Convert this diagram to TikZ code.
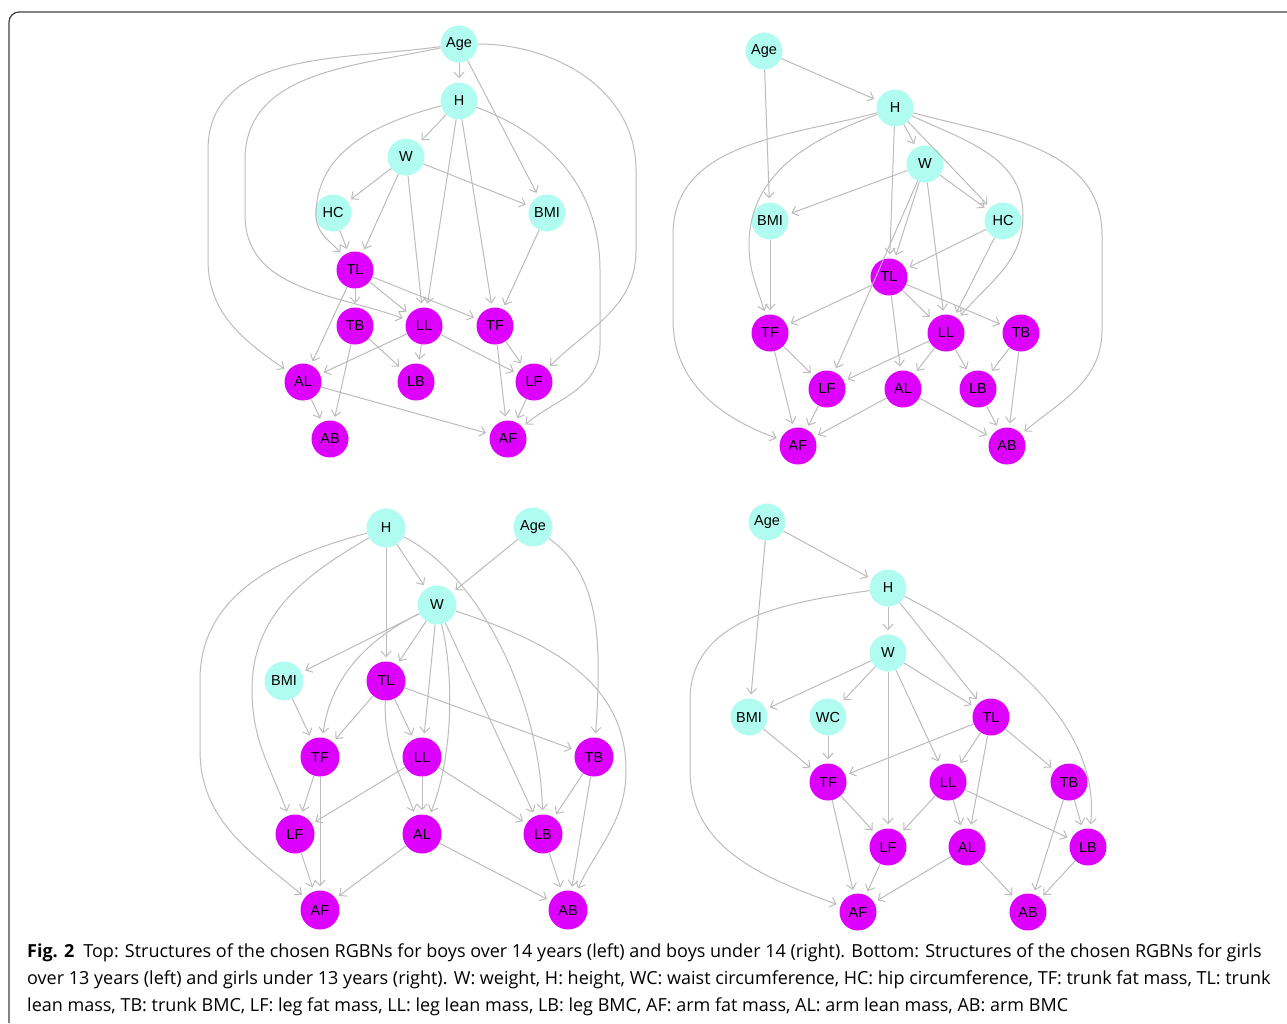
\documentclass[tikz,border=0pt]{standalone}
\usepackage{fontspec}
\usepackage{tikz}
\usetikzlibrary{arrows.meta}
\newfontfamily\vtxfont{Liberation Sans}
\newfontfamily\capfont{Open Sans}
\definecolor{cyn}{RGB}{176,252,240}
\definecolor{mgt}{RGB}{221,0,255}
\definecolor{edg}{RGB}{188,188,188}
\begin{document}
\begin{tikzpicture}[x=1pt, y=1pt, edge/.style={draw=edg, line width=1pt, -{Straight Barb[length=5.5pt,width=10pt]}, shorten >=4pt}, captxt/.style={anchor=base west, inner sep=0pt, font=\capfont\fontsize{18}{22}\selectfont}]
\tikzstyle{vtx}=[circle, inner sep=0pt, minimum size=37pt, font=\vtxfont\fontsize{14.5}{16}\selectfont]
\tikzstyle{cy}=[vtx, fill=cyn]
\tikzstyle{mg}=[vtx, fill=mgt]
\useasboundingbox (0,0) rectangle (1287,-1023);
\draw[black!75, line width=1.2pt] (9,-1023) -- (9,-22) arc[start angle=180, end angle=90, radius=10] -- (1287,-12);
% top left: boys over 14
\node[cy] (Age1) at (459,-44) {Age};
\node[cy] (H1) at (459,-101) {H};
\node[cy] (W1) at (406,-157) {W};
\node[cy] (HC1) at (333,-213) {HC};
\node[cy] (BMI1) at (547,-213) {BMI};
\node[mg] (TL1) at (355,-270) {TL};
\node[mg] (TB1) at (355,-326) {TB};
\node[mg] (LL1) at (424,-326) {LL};
\node[mg] (TF1) at (495,-326) {TF};
\node[mg] (AL1) at (303,-382) {AL};
\node[mg] (LB1) at (416,-382) {LB};
\node[mg] (LF1) at (534,-382) {LF};
\node[mg] (AB1) at (330,-439) {AB};
\node[mg] (AF1) at (508,-439) {AF};
\foreach \i/\j in {Age1/H1,Age1/BMI1,H1/W1,H1/LL1,H1/TF1,W1/HC1,W1/TL1,W1/LL1,W1/BMI1,HC1/TL1,BMI1/TF1,TL1/TB1,TL1/LL1,TL1/TF1,TL1/AL1,TB1/LB1,TB1/AB1,LL1/LB1,LL1/AL1,LL1/LF1,TF1/LF1,TF1/AF1,LF1/AF1,AL1/AB1,AL1/AF1}{\draw[edge] (\i) -- (\j);}
\draw[edge] (Age1) to[out=188,in=90] (208,-150) -- (208,-260) to[out=-90,in=145] (AL1);
\draw[edge] (Age1) to[out=192,in=90] (245,-160) -- (245,-215) to[out=-90,in=160] (LL1);
\draw[edge] (Age1) to[out=0,in=90] (636,-170) -- (636,-250) to[out=-90,in=45] (LF1);
\draw[edge] (H1) to[out=-20,in=90] (600,-270) -- (600,-345) to[out=-90,in=40] (AF1);
\draw[edge] (H1) to[out=195,in=90] (316,-215) to[out=-90,in=130] (TL1);
% top right: boys under 14
\node[cy] (Age2) at (764,-51) {Age};
\node[cy] (H2) at (895,-108) {H};
\node[cy] (W2) at (925,-164) {W};
\node[cy] (BMI2) at (770,-221) {BMI};
\node[cy] (HC2) at (1003,-221) {HC};
\node[mg] (TL2) at (889,-277) {TL};
\node[mg] (TF2) at (770,-333) {TF};
\node[mg] (LL2) at (946,-333) {LL};
\node[mg] (TB2) at (1021,-333) {TB};
\node[mg] (LF2) at (827,-389) {LF};
\node[mg] (AL2) at (903,-389) {AL};
\node[mg] (LB2) at (978,-389) {LB};
\node[mg] (AF2) at (798,-446) {AF};
\node[mg] (AB2) at (1007,-446) {AB};
\foreach \i/\j in {Age2/H2,Age2/BMI2,H2/W2,H2/TL2,H2/HC2,W2/BMI2,W2/HC2,W2/TL2,W2/LF2,W2/LL2,HC2/TL2,HC2/LL2,BMI2/TF2,TL2/TF2,TL2/LL2,TL2/TB2,TL2/AL2,TF2/LF2,TF2/AF2,LL2/LF2,LL2/AL2,LL2/LB2,TB2/LB2,TB2/AB2,LF2/AF2,AL2/AF2,AL2/AB2,LB2/AB2}{\draw[edge] (\i) -- (\j);}
\draw[edge] (H2) to[out=200,in=90] (749,-245) to[out=-90,in=105] (TF2);
\draw[edge] (H2) to[out=195,in=90] (673,-235) -- (673,-320) to[out=-90,in=160] (AF2);
\draw[edge] (H2) to[out=-25,in=90] (1023,-215) to[out=-90,in=50] (LL2);
\draw[edge] (H2) to[out=-15,in=90] (1102,-235) -- (1102,-330) to[out=-90,in=40] (AB2);
% bottom left: girls over 13
\node[cy, minimum size=39pt] (H3) at (386,-528) {H};
\node[cy, minimum size=39pt] (Age3) at (533,-527) {Age};
\node[cy, minimum size=39pt] (W3) at (437,-605) {W};
\node[cy, minimum size=39pt] (BMI3) at (284,-681) {BMI};
\node[mg, minimum size=39pt] (TL3) at (386,-681) {TL};
\node[mg, minimum size=39pt] (TF3) at (320,-757) {TF};
\node[mg, minimum size=39pt] (LL3) at (422,-757) {LL};
\node[mg, minimum size=39pt] (TB3) at (594,-757) {TB};
\node[mg, minimum size=39pt] (LF3) at (295,-834) {LF};
\node[mg, minimum size=39pt] (AL3) at (422,-834) {AL};
\node[mg, minimum size=39pt] (LB3) at (543,-834) {LB};
\node[mg, minimum size=39pt] (AF3) at (320,-910) {AF};
\node[mg, minimum size=39pt] (AB3) at (568,-910) {AB};
\foreach \i/\j in {H3/W3,H3/TL3,Age3/W3,W3/BMI3,W3/TL3,W3/LL3,W3/LB3,BMI3/TF3,TL3/TF3,TL3/LL3,TL3/TB3,TF3/LF3,TF3/AF3,LL3/LF3,LL3/AL3,LL3/LB3,TB3/LB3,TB3/AB3,LF3/AF3,AL3/AF3,AL3/AB3,LB3/AB3}{\draw[edge] (\i) -- (\j);}
\draw[edge] (H3) to[out=195,in=90] (200,-680) -- (200,-750) to[out=-90,in=140] (AF3);
\draw[edge] (H3) to[out=210,in=90] (252,-690) to[out=-90,in=110] (LF3);
\draw[edge] (H3) .. controls (480,-575) and (540,-700) .. (LB3);
\draw[edge] (Age3) .. controls (600,-575) and (602,-640) .. (TB3);
\draw[edge] (W3) .. controls (365,-640) and (330,-680) .. (TF3);
\draw[edge] (W3) .. controls (455,-680) and (452,-760) .. (AL3);
\draw[edge] (W3) to[out=-18,in=90] (626,-770) to[out=-90,in=65] (AB3);
\draw[edge] (TL3) to[out=-92,in=110] (AL3);
% bottom right: girls under 13
\node[cy] (Age4) at (767,-522) {Age};
\node[cy] (H4) at (888,-588) {H};
\node[cy] (W4) at (888,-653) {W};
\node[cy] (BMI4) at (749,-717) {BMI};
\node[cy] (WC4) at (828,-717) {WC};
\node[mg] (TL4) at (991,-717) {TL};
\node[mg] (TF4) at (828,-782) {TF};
\node[mg] (LL4) at (948,-782) {LL};
\node[mg] (TB4) at (1069,-782) {TB};
\node[mg] (LF4) at (888,-847) {LF};
\node[mg] (AL4) at (967,-847) {AL};
\node[mg] (LB4) at (1088,-847) {LB};
\node[mg] (AF4) at (858,-912) {AF};
\node[mg] (AB4) at (1028,-912) {AB};
\foreach \i/\j in {Age4/H4,Age4/BMI4,H4/W4,H4/TL4,W4/BMI4,W4/WC4,W4/LF4,W4/LL4,W4/TL4,WC4/TF4,BMI4/TF4,TL4/TF4,TL4/LL4,TL4/AL4,TL4/TB4,TF4/LF4,TF4/AF4,LL4/LF4,LL4/AL4,LL4/LB4,TB4/LB4,TB4/AB4,LF4/AF4,AL4/AF4,AL4/AB4,LB4/AB4}{\draw[edge] (\i) -- (\j);}
\draw[edge] (H4) to[out=188,in=90] (690,-700) -- (690,-770) to[out=-90,in=160] (AF4);
\draw[edge] (H4) .. controls (1030,-660) and (1100,-740) .. (LB4);
% caption
\node[captxt] (cap1) at (27,-957) {\textbf{Fig. 2}\hspace{9pt}Top: Structures of the chosen RGBNs for boys over 14 years (left) and boys under 14 (right). Bottom: Structures of the chosen RGBNs for girls};
\node[captxt] (cap2) at (27,-984) {over 13 years (left) and girls under 13 years (right). W: weight, H: height, WC: waist circumference, HC: hip circumference, TF: trunk fat mass, TL: trunk};
\node[captxt] (cap3) at (27,-1011) {lean mass, TB: trunk BMC, LF: leg fat mass, LL: leg lean mass, LB: leg BMC, AF: arm fat mass, AL: arm lean mass, AB: arm BMC};
\end{tikzpicture}
\end{document}
